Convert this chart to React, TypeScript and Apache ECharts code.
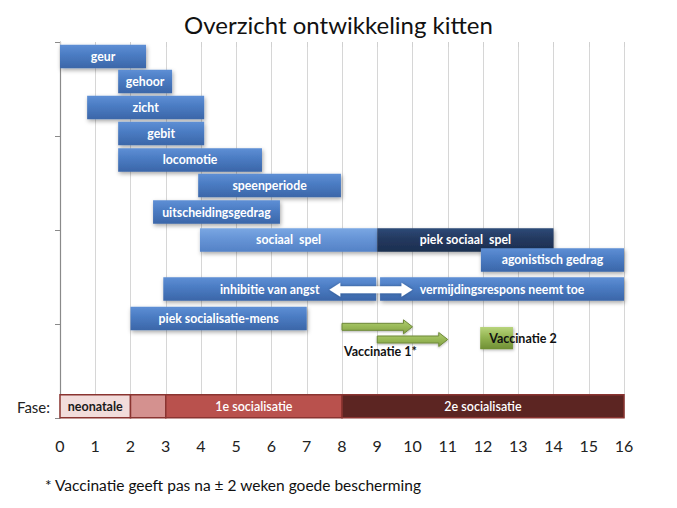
import React, { useEffect, useRef } from "react";
import * as echarts from "echarts";

const titleText = "Overzicht ontwikkeling kitten";
const footnoteText = "* Vaccinatie geeft pas na ± 2 weken goede bescherming";
const phaseAxisLabel = "Fase:";

const weekMin = 0;
const weekMax = 16;

const activityNames = [
  "geur",
  "gehoor",
  "zicht",
  "gebit",
  "locomotie",
  "speenperiode",
  "uitscheidingsgedrag",
  "sociaal  spel",
  "piek sociaal  spel",
  "agonistisch gedrag",
  "inhibitie van angst",
  "vermijdingsrespons neemt toe",
  "piek socialisatie-mens",
];
const activityStart = [0, 1.65, 0.77, 1.65, 1.65, 3.92, 2.64, 3.97, 9.0, 11.94, 2.93, 9.08, 2.0];
const activityEnd = [2.44, 3.18, 4.09, 4.09, 5.73, 7.97, 6.24, 9.0, 14.0, 16, 8.97, 16, 7.0];
const activityRow = [0.154, 0.42, 0.697, 0.973, 1.255, 1.527, 1.809, 2.106, 2.106, 2.319, 2.628, 2.628, 2.941];

const phaseNames = ["neonatale", "", "1e socialisatie", "2e socialisatie"];
const phaseStart = [0, 2, 3, 8];
const phaseEnd = [2, 3, 8, 16];
const phaseRow = 3.875;

const fearArrowStart = [7.64];
const fearArrowEnd = [10.0];
const fearArrowRow = [2.635];

const vaccine1Label = "Vaccinatie 1*";
const vaccine1Start = [8.0, 9.0];
const vaccine1End = [10.0, 11.0];
const vaccine1Row = [3.03, 3.165];
const vaccine1LabelRow = 3.29;

const vaccine2Label = "Vaccinatie 2";
const vaccine2Start = [11.92];
const vaccine2End = [12.85];
const vaccine2Row = [3.15];

const FONT = "Lato";

function grad(a: string, b: string, c: string) {
  return new echarts.graphic.LinearGradient(0, 0, 0, 1, [
    { offset: 0, color: a },
    { offset: 0.45, color: b },
    { offset: 1, color: c },
  ]);
}

const barStyles: Record<string, [string, string, string]> = {
  "sociaal  spel": ["#7aa7e3", "#6694d6", "#5482c6"],
  "piek sociaal  spel": ["#2e4a78", "#23395f", "#1c2f50"],
};
const defaultBar: [string, string, string] = ["#5e8fd5", "#4a7bc2", "#3b66a8"];

const phaseFill = ["#f2dcdb", "#d4918f", "#b9514d", "#5c2522"];
const phaseTextColor = ["#1a1a1a", "#fff", "#fff", "#fff"];

export default function App() {
  const ref = useRef<HTMLDivElement>(null);
  useEffect(() => {
    if (!ref.current) return;
    const chart = echarts.init(ref.current, undefined, { renderer: "svg" });

    const barHeight = 0.25;

    const activityData = activityNames.map((n, i) => [activityStart[i], activityEnd[i], activityRow[i]]);
    const phaseData = phaseNames.map((n, i) => [phaseStart[i], phaseEnd[i], phaseRow]);
    const fearData = fearArrowStart.map((s, i) => [s, fearArrowEnd[i], fearArrowRow[i]]);
    const vac1Data = vaccine1Start.map((s, i) => [s, vaccine1End[i], vaccine1Row[i]]);
    const vac2Data = vaccine2Start.map((s, i) => [s, vaccine2End[i], vaccine2Row[i]]);

    const option: any = {
      animation: false,
      title: {
        text: titleText,
        left: "center",
        top: 7,
        textStyle: { fontFamily: FONT, fontSize: 24, fontWeight: "normal", color: "#111" },
      },
      grid: { left: 60, right: 53, top: 42, bottom: 90, containLabel: false },
      xAxis: {
        type: "value",
        min: weekMin,
        max: weekMax,
        interval: 1,
        axisLine: { show: false },
        axisTick: { show: true, length: 5, lineStyle: { color: "#d0d0d0" } },
        splitLine: { show: true, lineStyle: { color: "#d6d6d6", width: 1 } },
        axisLabel: { fontFamily: FONT, fontSize: 16, color: "#222", margin: 19 },
      },
      yAxis: {
        type: "value",
        min: 0,
        max: 4,
        interval: 1,
        inverse: true,
        axisLine: { show: true, lineStyle: { color: "#8a8a8a", width: 1.2 } },
        axisTick: { show: true, length: 5, lineStyle: { color: "#8a8a8a" } },
        axisLabel: { show: false },
        splitLine: { show: false },
      },
      graphic: [
        {
          type: "text",
          left: 17,
          top: 399,
          style: { text: phaseAxisLabel, font: `15px ${FONT}`, fill: "#222" },
        },
        {
          type: "text",
          left: 45,
          top: 477,
          style: { text: footnoteText, font: `15.5px ${FONT}`, fill: "#111" },
        },
      ],
      series: [
        {
          type: "custom",
          name: "fasen",
          clip: false,
          data: phaseData,
          renderItem: (params: any, api: any) => {
            const i = params.dataIndex;
            const p0 = api.coord([api.value(0), api.value(2)]);
            const p1 = api.coord([api.value(1), api.value(2)]);
            const h = api.size([0, 0.245])[1];
            return {
              type: "group",
              children: [
                {
                  type: "rect",
                  shape: { x: p0[0], y: p0[1] - h / 2, width: p1[0] - p0[0], height: h },
                  style: { fill: phaseFill[i], stroke: "#8a3431", lineWidth: 1.5 },
                },
                {
                  type: "text",
                  style: {
                    text: phaseNames[i],
                    x: (p0[0] + p1[0]) / 2,
                    y: p0[1],
                    align: "center",
                    verticalAlign: "middle",
                    fill: phaseTextColor[i],
                    font: `${i === 0 ? "bold " : "600 "}12.5px ${FONT}`,
                  },
                },
              ],
            };
          },
        },
        {
          type: "custom",
          name: "ontwikkeling",
          clip: false,
          data: activityData,
          renderItem: (params: any, api: any) => {
            const i = params.dataIndex;
            const name = activityNames[i];
            const p0 = api.coord([api.value(0), api.value(2)]);
            const p1 = api.coord([api.value(1), api.value(2)]);
            const h = api.size([0, barHeight])[1];
            const c = barStyles[name] || defaultBar;
            return {
              type: "group",
              children: [
                {
                  type: "rect",
                  shape: { x: p0[0], y: p0[1] - h / 2, width: p1[0] - p0[0], height: h },
                  style: {
                    fill: grad(c[0], c[1], c[2]),
                    shadowBlur: 4,
                    shadowOffsetX: 1,
                    shadowOffsetY: 2,
                    shadowColor: "rgba(0,0,0,0.35)",
                  },
                },
                {
                  type: "text",
                  style: {
                    text: name,
                    x: (p0[0] + p1[0]) / 2,
                    y: p0[1],
                    align: "center",
                    verticalAlign: "middle",
                    fill: "#fff",
                    font: `bold 12.3px ${FONT}`,
                  },
                },
              ],
            };
          },
        },
        {
          type: "custom",
          name: "angst",
          clip: false,
          data: fearData,
          renderItem: (params: any, api: any) => {
            const p0 = api.coord([api.value(0), api.value(2)]);
            const p1 = api.coord([api.value(1), api.value(2)]);
            const x0 = p0[0];
            const x1 = p1[0];
            const cy = p0[1];
            const sh = 3.5;
            const hh = 7;
            const hl = 11;
            return {
              type: "polygon",
              shape: {
                points: [
                  [x0, cy],
                  [x0 + hl, cy - hh],
                  [x0 + hl, cy - sh],
                  [x1 - hl, cy - sh],
                  [x1 - hl, cy - hh],
                  [x1, cy],
                  [x1 - hl, cy + hh],
                  [x1 - hl, cy + sh],
                  [x0 + hl, cy + sh],
                  [x0 + hl, cy + hh],
                ],
              },
              style: { fill: "#ffffff", shadowBlur: 3, shadowColor: "rgba(0,0,0,0.3)" },
            };
          },
        },
        {
          type: "custom",
          name: vaccine1Label,
          clip: false,
          data: vac1Data,
          renderItem: (params: any, api: any) => {
            const p0 = api.coord([api.value(0), api.value(2)]);
            const p1 = api.coord([api.value(1), api.value(2)]);
            const x0 = p0[0];
            const x1 = p1[0];
            const cy = p0[1];
            const sh = 3.5;
            const hh = 7;
            const hl = 9;
            const children: any[] = [
              {
                type: "polygon",
                shape: {
                  points: [
                    [x0, cy - sh],
                    [x1 - hl, cy - sh],
                    [x1 - hl, cy - hh],
                    [x1, cy],
                    [x1 - hl, cy + hh],
                    [x1 - hl, cy + sh],
                    [x0, cy + sh],
                  ],
                },
                style: {
                  fill: grad("#b0cc73", "#9bbb59", "#82a044"),
                  stroke: "#6f8a3a",
                  lineWidth: 1,
                  shadowBlur: 2,
                  shadowOffsetY: 1,
                  shadowColor: "rgba(0,0,0,0.3)",
                },
              },
            ];
            if (params.dataIndex === 0) {
              const lp = api.coord([api.value(0), vaccine1LabelRow]);
              children.push({
                type: "text",
                style: {
                  text: vaccine1Label,
                  x: lp[0] + 2,
                  y: lp[1],
                  align: "left",
                  verticalAlign: "middle",
                  fill: "#111",
                  font: `bold 12.5px ${FONT}`,
                },
              });
            }
            return { type: "group", children };
          },
        },
        {
          type: "custom",
          name: vaccine2Label,
          clip: false,
          data: vac2Data,
          renderItem: (params: any, api: any) => {
            const p0 = api.coord([api.value(0), api.value(2)]);
            const p1 = api.coord([api.value(1), api.value(2)]);
            const h = api.size([0, 0.235])[1];
            return {
              type: "group",
              children: [
                {
                  type: "rect",
                  shape: { x: p0[0], y: p0[1] - h / 2, width: p1[0] - p0[0], height: h },
                  style: {
                    fill: grad("#b8d47c", "#94b552", "#6f8f34"),
                    shadowBlur: 3,
                    shadowOffsetX: 1,
                    shadowOffsetY: 1,
                    shadowColor: "rgba(0,0,0,0.3)",
                  },
                },
                {
                  type: "text",
                  style: {
                    text: vaccine2Label,
                    x: p0[0] + 9,
                    y: p0[1],
                    align: "left",
                    verticalAlign: "middle",
                    fill: "#111",
                    font: `bold 12.5px ${FONT}`,
                  },
                },
              ],
            };
          },
        },
      ],
    };
    chart.setOption(option);
    return () => chart.dispose();
  }, []);
  return (
    <div
      ref={ref}
      style={{ position: "fixed", left: 0, top: 0, width: 677, height: 508, background: "#fff" }}
    />
  );
}
